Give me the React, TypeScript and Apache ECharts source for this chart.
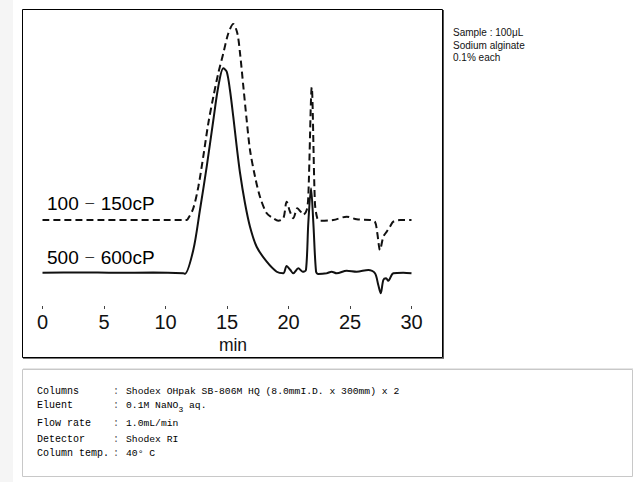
import React, { useEffect, useRef } from "react";
import * as echarts from "echarts";

// retention time (min), detector response (arbitrary units)
const solidSeries: [number, number][] = [
  [0, 35.3], [3, 35.6], [6, 35.2], [9, 35.4], [11.45, 34.8], [11.58, 34.2],
  [12.26, 58], [12.8, 98], [13.35, 141.3], [13.89, 188], [14.29, 221.3],
  [14.7, 239.7], [14.98, 236.3], [15.24, 218], [15.51, 191.3], [15.79, 161.3],
  [16.06, 135], [16.46, 105], [16.87, 81.3], [17.41, 61.3], [18.23, 46.3],
  [19.04, 36.3], [19.58, 34.7], [19.85, 42], [20.12, 38.5], [20.39, 34.7],
  [20.8, 39.7], [21.15, 36.3], [21.42, 38], [21.61, 85], [21.83, 119.7],
  [22.02, 85], [22.24, 36.3], [22.42, 34], [23.1, 34.7], [23.51, 36.3],
  [23.92, 34.7], [24.73, 37.3], [25.54, 36.3], [26.49, 38], [27.03, 34.7],
  [27.3, 23], [27.5, 14.7], [27.71, 28], [27.93, 29.7], [28.11, 27.3],
  [28.52, 34.7], [29.33, 35.3], [30, 34.7],
];

const dashedSeries: [number, number][] = [
  [0, 88], [11.72, 88], [11.85, 89.7], [12.26, 99.7], [12.67, 121.3],
  [13.07, 151.3], [13.48, 184.7], [13.89, 211.3], [14.29, 234.7], [14.7, 254.7],
  [15.11, 274.7], [15.51, 284], [15.84, 274.7], [16.06, 254.7], [16.33, 221.3],
  [16.6, 188], [16.87, 158], [17.28, 131.3], [17.68, 111.3], [18.23, 94.7],
  [18.76, 89.7], [19.17, 87.3], [19.58, 89.7], [19.85, 106.3], [20.12, 96.3],
  [20.39, 89.7], [20.72, 99.7], [20.99, 96.3], [21.2, 93], [21.48, 98],
  [21.61, 111.3], [21.89, 220.7], [22.15, 104.7], [22.34, 89.7], [22.56, 87.3],
  [23.64, 88], [24.73, 91.3], [25.54, 88.7], [26.63, 88], [27.03, 86.3],
  [27.22, 74.7], [27.44, 58], [27.71, 71.3], [27.98, 76.3], [28.25, 81.3],
  [28.52, 86.3], [29.07, 88], [30, 88],
];

const timeTicks = [0, 5, 10, 15, 20, 25, 30];
const seriesRanges = [["100", "150cP"], ["500", "600cP"]];
const rangeDash = "－";
const axisName = "min";
const sampleLines = ["Sample : 100μL", "Sodium alginate", "0.1% each"];
const conditionLabels = ["Columns", "Eluent", "Flow rate", "Detector", "Column temp."];
const conditionValues = [
  "Shodex OHpak SB-806M HQ (8.0mmI.D. x 300mm) x 2",
  "0.1M NaNO",
  "1.0mL/min",
  "Shodex RI",
  "40° C",
];
const eluentSub = "3";
const eluentTail = " aq.";

const SANS = "'Liberation Sans', Arial, 'Noto Sans CJK JP', sans-serif";
const MONO = "'Liberation Mono', 'DejaVu Sans Mono', monospace";

export default function App() {
  const ref = useRef<HTMLDivElement>(null);
  useEffect(() => {
    if (!ref.current) return;
    const chart = echarts.init(ref.current, undefined, { renderer: "svg" });
    const condY = [391.7, 405.7, 423.3, 439, 453.3];
    const seriesNames = seriesRanges.map((r) => r[0] + rangeDash + r[1]);
    const labelRich = {
      a: { fontSize: 19, fontFamily: SANS, color: "#111", verticalAlign: "middle" },
      d: { fontSize: 12, fontFamily: "'Noto Sans CJK JP', sans-serif", color: "#111", verticalAlign: "middle", padding: [0, 5, 2, 5] },
    };
    const graphic: any[] = [
      { type: "rect", shape: { x: 0, y: 0, width: 13, height: 482 }, style: { fill: "#f5f5f5" }, silent: true },
      { type: "rect", shape: { x: 22.5, y: 9.5, width: 420, height: 348 }, style: { fill: "none", stroke: "#000", lineWidth: 1 }, silent: true },
      { type: "line", shape: { x1: 443.5, y1: 10, x2: 443.5, y2: 359 }, style: { stroke: "#555", lineWidth: 1 }, silent: true },
      { type: "line", shape: { x1: 23, y1: 358.5, x2: 444, y2: 358.5 }, style: { stroke: "#777", lineWidth: 1 }, silent: true },
      { type: "rect", shape: { x: 22.5, y: 369.5, width: 610, height: 107 }, style: { fill: "none", stroke: "#c8c8c8", lineWidth: 1 }, silent: true },
      { type: "line", shape: { x1: 23, y1: 368.5, x2: 633, y2: 368.5 }, style: { stroke: "#e6e6e6", lineWidth: 1 }, silent: true },
      { type: "text", x: 233, y: 345, style: { text: axisName, font: `17.5px ${SANS}`, fill: "#111", textAlign: "center", textVerticalAlign: "middle" } },
    ];
    const labelY = [203.5, 257];
    seriesRanges.forEach((r, i) => {
      graphic.push({
        type: "text", x: 47, y: labelY[i],
        style: { text: `{a|${r[0]}}{d|${rangeDash}}{a|${r[1]}}`, rich: labelRich, verticalAlign: "middle", textVerticalAlign: "middle" },
      });
    });
    sampleLines.forEach((t, i) => {
      graphic.push({ type: "text", x: 453, y: 32.7 + i * 12.3, style: { text: t, font: `10px ${SANS}`, fill: "#111", textVerticalAlign: "middle" } });
    });
    conditionLabels.forEach((t, i) => {
      graphic.push({ type: "text", x: 37, y: condY[i], style: { text: t, font: `10px ${MONO}`, fill: "#000", textVerticalAlign: "middle" } });
      graphic.push({ type: "text", x: 113, y: condY[i], style: { text: ":", font: `10px ${MONO}`, fill: "#555", textVerticalAlign: "middle" } });
      graphic.push({ type: "text", x: 126, y: condY[i], style: { text: conditionValues[i], font: `9.7px ${MONO}`, fill: "#000", textVerticalAlign: "middle" } });
    });
    graphic.push({ type: "text", x: 126 + 9 * 5.82, y: condY[1] + 4, style: { text: eluentSub, font: `8px ${MONO}`, fill: "#000", textVerticalAlign: "middle" } });
    graphic.push({ type: "text", x: 126 + 10 * 5.82 - 1, y: condY[1], style: { text: eluentTail, font: `9.7px ${MONO}`, fill: "#000", textVerticalAlign: "middle" } });

    chart.setOption({
      animation: false,
      grid: { left: 42.5, right: 226.5, top: 8, bottom: 176, containLabel: false },
      xAxis: {
        type: "value",
        min: timeTicks[0],
        max: timeTicks[timeTicks.length - 1],
        interval: timeTicks[1] - timeTicks[0],
        axisLine: { show: false },
        axisTick: { show: true, length: 3, lineStyle: { color: "#444", width: 1 } },
        axisLabel: { fontSize: 20, color: "#111", margin: 6, fontFamily: SANS },
        splitLine: { show: false },
      },
      yAxis: { type: "value", min: 2, max: 300, show: false },
      series: [
        {
          name: seriesNames[0],
          type: "line",
          data: dashedSeries,
          showSymbol: false,
          smooth: 0.3,
          lineStyle: { color: "#111", width: 2, type: [7, 4] },
        },
        {
          name: seriesNames[1],
          type: "line",
          data: solidSeries,
          showSymbol: false,
          smooth: 0.3,
          lineStyle: { color: "#111", width: 2 },
        },
      ],
      graphic,
    });
    return () => chart.dispose();
  }, []);
  return (
    <div style={{ position: "absolute", left: 0, top: 0, width: 638, height: 482, background: "#fff" }}>
      <div ref={ref} style={{ width: 638, height: 482 }} />
    </div>
  );
}
